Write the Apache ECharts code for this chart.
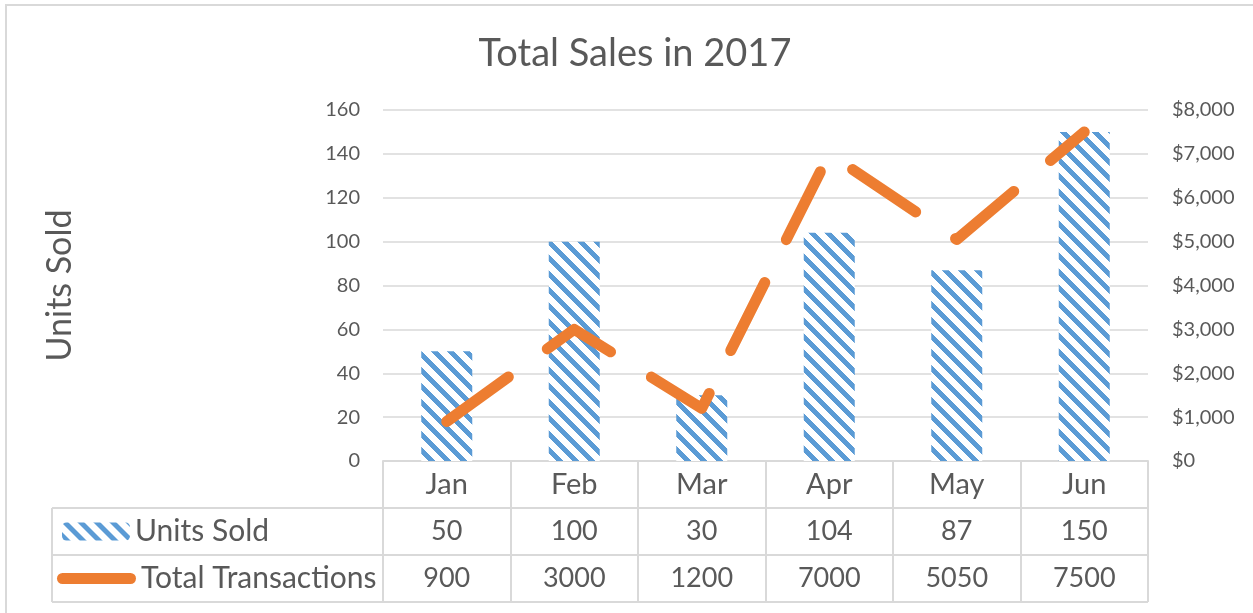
<!DOCTYPE html>
<html>
<head>
<meta charset="utf-8">
<title>Total Sales in 2017</title>
<script src="https://cdn.jsdelivr.net/npm/echarts@6/dist/echarts.min.js"></script>
<style>
  html, body { margin: 0; padding: 0; background: #fff; }
  #main { width: 1253px; height: 613px; }
</style>
</head>
<body>
<div id="main"></div>
<script>
// data
const months = ['Jan', 'Feb', 'Mar', 'Apr', 'May', 'Jun']
const unitsSold = [50, 100, 30, 104, 87, 150]
const transactions = [900, 3000, 1200, 7000, 5050, 7500]
const unitsTicks = { min: 0, max: 160, interval: 20 }
const moneyTicks = { min: 0, max: 8000, interval: 1000 }

// layout
const FONT = 'Lato, "Open Sans", sans-serif'
const TEXT = '#595959'
const RULE = '#d9d9d9'
const BLUE = '#5b9bd5'
const ORANGE = '#ed7d31'
const PLOT_LEFT = 383
const PLOT_RIGHT = 1148
const PLOT_TOP = 110
const AXIS_Y = 461
const ROW_H = 47
const TABLE_LEFT = 52

// hatch fill, like excel's "wide downward diagonal"
function makeHatch () {
  const c = document.createElement('canvas')
  c.width = 16
  c.height = 16
  const ctx = c.getContext('2d')
  ctx.fillStyle = '#fff'
  ctx.fillRect(0, 0, 16, 16)
  ctx.fillStyle = BLUE
  for (let y = 0; y < 16; y++) {
    for (let x = 0; x < 16; x++) {
      if (((x - y) % 16 + 16) % 16 < 7) ctx.fillRect(x, y, 1, 1)
    }
  }
  return c
}
const hatch = { image: makeHatch(), repeat: 'repeat' }

const chart = echarts.init(document.getElementById('main'))

// table rules that are not covered by the axis line / ticks
const rules = []
for (let r = 1; r <= 3; r++) {
  const y = AXIS_Y + r * ROW_H
  rules.push({ type: 'line', shape: { x1: TABLE_LEFT, y1: y, x2: PLOT_RIGHT, y2: y }, style: { stroke: RULE, lineWidth: 2 } })
}
rules.push({ type: 'line', shape: { x1: TABLE_LEFT, y1: AXIS_Y + ROW_H, x2: TABLE_LEFT, y2: AXIS_Y + 3 * ROW_H }, style: { stroke: RULE, lineWidth: 2 } })
rules.push({ type: 'rect', shape: { x: 6, y: 5, width: 1400, height: 800 }, style: { stroke: RULE, lineWidth: 2, fill: null } })

const legendText = { color: TEXT, fontFamily: FONT, fontSize: 30 }
// thick rounded stroke used as legend key for the line
const pillIcon = 'path://M5.5,0 H73.5 A5.5,5.5 0 0 1 73.5,11 H5.5 A5.5,5.5 0 0 1 5.5,0 Z'

chart.setOption({
  animation: false,
  textStyle: { fontFamily: FONT },
  title: {
    text: 'Total Sales in 2017',
    left: 630,
    textAlign: 'center',
    top: 30,
    textStyle: { color: TEXT, fontFamily: FONT, fontSize: 38, fontWeight: 'normal' }
  },
  graphic: rules,
  legend: [
    {
      data: ['Units Sold'],
      left: 62, top: AXIS_Y + ROW_H * 1.5 - 15,
      padding: 0, itemWidth: 68, itemHeight: 18,
      textStyle: legendText, selectedMode: false
    },
    {
      data: [{ name: 'Total Transactions', icon: pillIcon }],
      left: 57, top: AXIS_Y + ROW_H * 2.5 - 15,
      padding: 0, itemWidth: 79, itemHeight: 11,
      textStyle: legendText, selectedMode: false
    }
  ],
  grid: {
    left: PLOT_LEFT,
    right: 1253 - PLOT_RIGHT,
    top: PLOT_TOP,
    bottom: 613 - AXIS_Y,
    containLabel: false
  },
  xAxis: {
    type: 'category',
    data: months,
    axisLine: { lineStyle: { color: RULE, width: 2 } },
    axisTick: { show: true, length: ROW_H * 3, lineStyle: { color: RULE, width: 2 } },
    axisLabel: {
      interval: 0,
      margin: 0,
      color: TEXT,
      formatter: (value, i) => `{m|${value}}\n{n|${unitsSold[i]}}\n{n|${transactions[i]}}`,
      rich: {
        m: { fontFamily: FONT, fontSize: 29, color: TEXT, lineHeight: ROW_H },
        n: { fontFamily: FONT, fontSize: 27, color: TEXT, lineHeight: ROW_H }
      }
    }
  },
  yAxis: [
    {
      type: 'value',
      ...unitsTicks,
      name: 'Units Sold',
      nameLocation: 'middle',
      nameRotate: 90,
      nameGap: 306,
      nameTextStyle: { color: TEXT, fontFamily: FONT, fontSize: 34 },
      axisLine: { show: false },
      axisTick: { show: false },
      axisLabel: { color: TEXT, fontSize: 20, margin: 23 },
      splitLine: { lineStyle: { color: RULE, width: 1.5 } }
    },
    {
      type: 'value',
      ...moneyTicks,
      position: 'right',
      axisLine: { show: false },
      axisTick: { show: false },
      splitLine: { show: false },
      axisLabel: {
        color: TEXT, fontSize: 20, margin: 24,
        formatter: v => '$' + v.toLocaleString('en-US')
      }
    }
  ],
  series: [
    {
      name: 'Units Sold',
      type: 'bar',
      yAxisIndex: 0,
      barWidth: 51,
      data: unitsSold,
      itemStyle: { color: hatch }
    },
    {
      name: 'Total Transactions',
      type: 'line',
      yAxisIndex: 1,
      data: transactions,
      symbol: 'none',
      lineStyle: { color: ORANGE, width: 11, type: [76, 48], cap: 'round', join: 'round' },
      itemStyle: { color: ORANGE }
    }
  ]
})
</script>
</body>
</html>
